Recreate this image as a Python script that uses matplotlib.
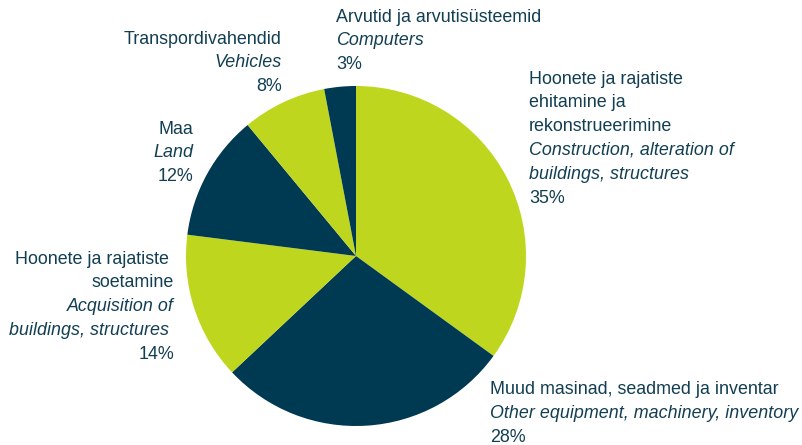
import matplotlib.pyplot as plt

plt.rcParams['font.family'] = ['Liberation Sans', 'DejaVu Sans']

# shares in %, clockwise from 12 o'clock
labels_et = ['Hoonete ja rajatiste\nehitamine ja\nrekonstrueerimine',
             'Muud masinad, seadmed ja inventar',
             'Hoonete ja rajatiste \nsoetamine',
             'Maa',
             'Transpordivahendid',
             'Arvutid ja arvutisüsteemid']
labels_en = ['Construction, alteration of\nbuildings, structures',
             'Other equipment, machinery, inventory',
             'Acquisition of\nbuildings, structures ',
             'Land',
             'Vehicles',
             'Computers']
shares = [35, 28, 14, 12, 8, 3]

lime = '#bed71e'
navy = '#003a52'
txt = '#123f53'
colors = [lime, navy, lime, navy, lime, navy]

W, H = 803, 445
cx, cy, R = 356, 256, 170  # pie centre and radius in pixels

fig = plt.figure(figsize=(W / 100, H / 100), dpi=100)
ax = fig.add_axes([0, 0, 1, 1])
ax.pie(shares, colors=colors, startangle=90, counterclock=False,
       radius=1, wedgeprops=dict(linewidth=0))
ax.set_xlim(-cx / R, (W - cx) / R)
ax.set_ylim(-(H - cy) / R, cy / R)
ax.set_aspect('equal')
ax.axis('off')

# label anchor: x pixel, y pixel of first line centre, alignment
label_pos = [(529, 79, 'left'), (490, 390, 'left'), (174, 259, 'right'),
             (193, 129, 'right'), (282, 39, 'right'), (336, 17, 'left')]
step = 23.8

def px(x, y):
    return (x - cx) / R, (cy - y) / R

for et, en, s, (x, y, ha) in zip(labels_et, labels_en, shares, label_pos):
    lines = [(l, 'normal') for l in et.split('\n')]
    lines += [(l, 'italic') for l in en.split('\n')]
    lines.append(('%d%%' % s, 'normal'))
    for i, (l, st) in enumerate(lines):
        ax.text(*px(x, y + i * step), l, ha=ha, va='center', fontsize=12.9,
                style=st, color=txt)

fig.savefig('out.png', dpi=100)
